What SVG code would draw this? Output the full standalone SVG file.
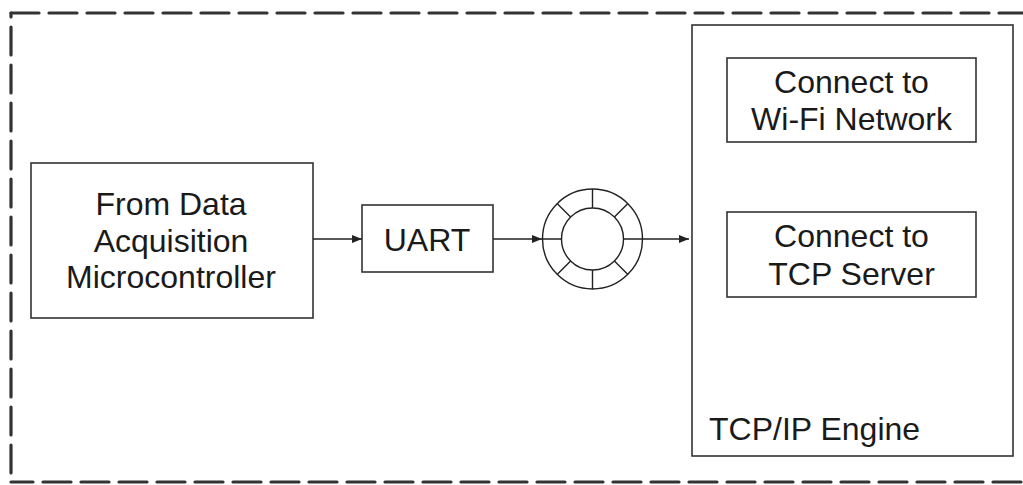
<svg xmlns="http://www.w3.org/2000/svg" width="1023" height="485" viewBox="0 0 1023 485">
<style>
  .box{fill:#fff;stroke:#333;stroke-width:1.6}
  .txt{font-family:"Liberation Sans",Arial,sans-serif;font-size:32px;fill:#1a1a1a}
  .mid{text-anchor:middle}
  .dash{fill:none;stroke:#333;stroke-width:3.2;stroke-dasharray:28 10;stroke-linecap:round}
  .ln{fill:none;stroke:#222;stroke-width:1.4}
  .conn{fill:none;stroke:#222;stroke-width:1.4;marker-end:url(#ah)}
</style>
<defs>
  <marker id="ah" viewBox="0 0 10 8" refX="10" refY="4" markerWidth="10" markerHeight="8" markerUnits="userSpaceOnUse" orient="auto">
    <path d="M0,0 L10,4 L0,8 z" fill="#222"/>
  </marker>
</defs>
<rect width="1023" height="485" fill="#fff"/>
<g id="boundary">
  <line class="dash" x1="11" y1="13" x2="1040" y2="13"/>
  <line class="dash" x1="11" y1="13" x2="11" y2="482" style="stroke-dashoffset:24"/>
  <line class="dash" x1="11" y1="482" x2="1040" y2="482" style="stroke-dashoffset:6"/>
</g>
<g id="source">
  <rect class="box" x="31" y="163" width="282" height="155"/>
  <text class="txt mid" x="171" y="215">From Data</text>
  <text class="txt mid" x="171" y="252">Acquisition</text>
  <text class="txt mid" x="171" y="288">Microcontroller</text>
</g>
<g id="uart">
  <rect class="box" x="362" y="205" width="131" height="67"/>
  <text class="txt mid" x="427" y="251">UART</text>
</g>
<g id="buffer">
  <circle class="ln" cx="592.5" cy="239" r="50"/>
  <circle class="ln" cx="592.5" cy="239" r="31"/>
  <path class="ln" d="M592.5,189 V208 M592.5,270 V289 M542.5,239 H561.5 M623.5,239 H642.5 M557.1,203.6 L570.6,217.1 M614.4,260.9 L627.9,274.4 M627.9,203.6 L614.4,217.1 M570.6,260.9 L557.1,274.4"/>
</g>
<g id="tcpip">
  <rect class="box" x="692" y="25" width="321" height="431"/>
  <text class="txt" x="709" y="440">TCP/IP Engine</text>
</g>
<g id="wifi">
  <rect class="box" x="727" y="58" width="249" height="84"/>
  <text class="txt mid" x="851.5" y="93">Connect to</text>
  <text class="txt mid" x="851.5" y="130">Wi-Fi Network</text>
</g>
<g id="tcpserver">
  <rect class="box" x="727" y="212" width="249" height="85"/>
  <text class="txt mid" x="851.5" y="247">Connect to</text>
  <text class="txt mid" x="851.5" y="285">TCP Server</text>
</g>
<g id="connectors">
  <line class="conn" x1="313" y1="239" x2="362" y2="239"/>
  <line class="conn" x1="493" y1="239" x2="542" y2="239"/>
  <line class="conn" x1="643" y1="239" x2="689" y2="239"/>
</g>
</svg>
